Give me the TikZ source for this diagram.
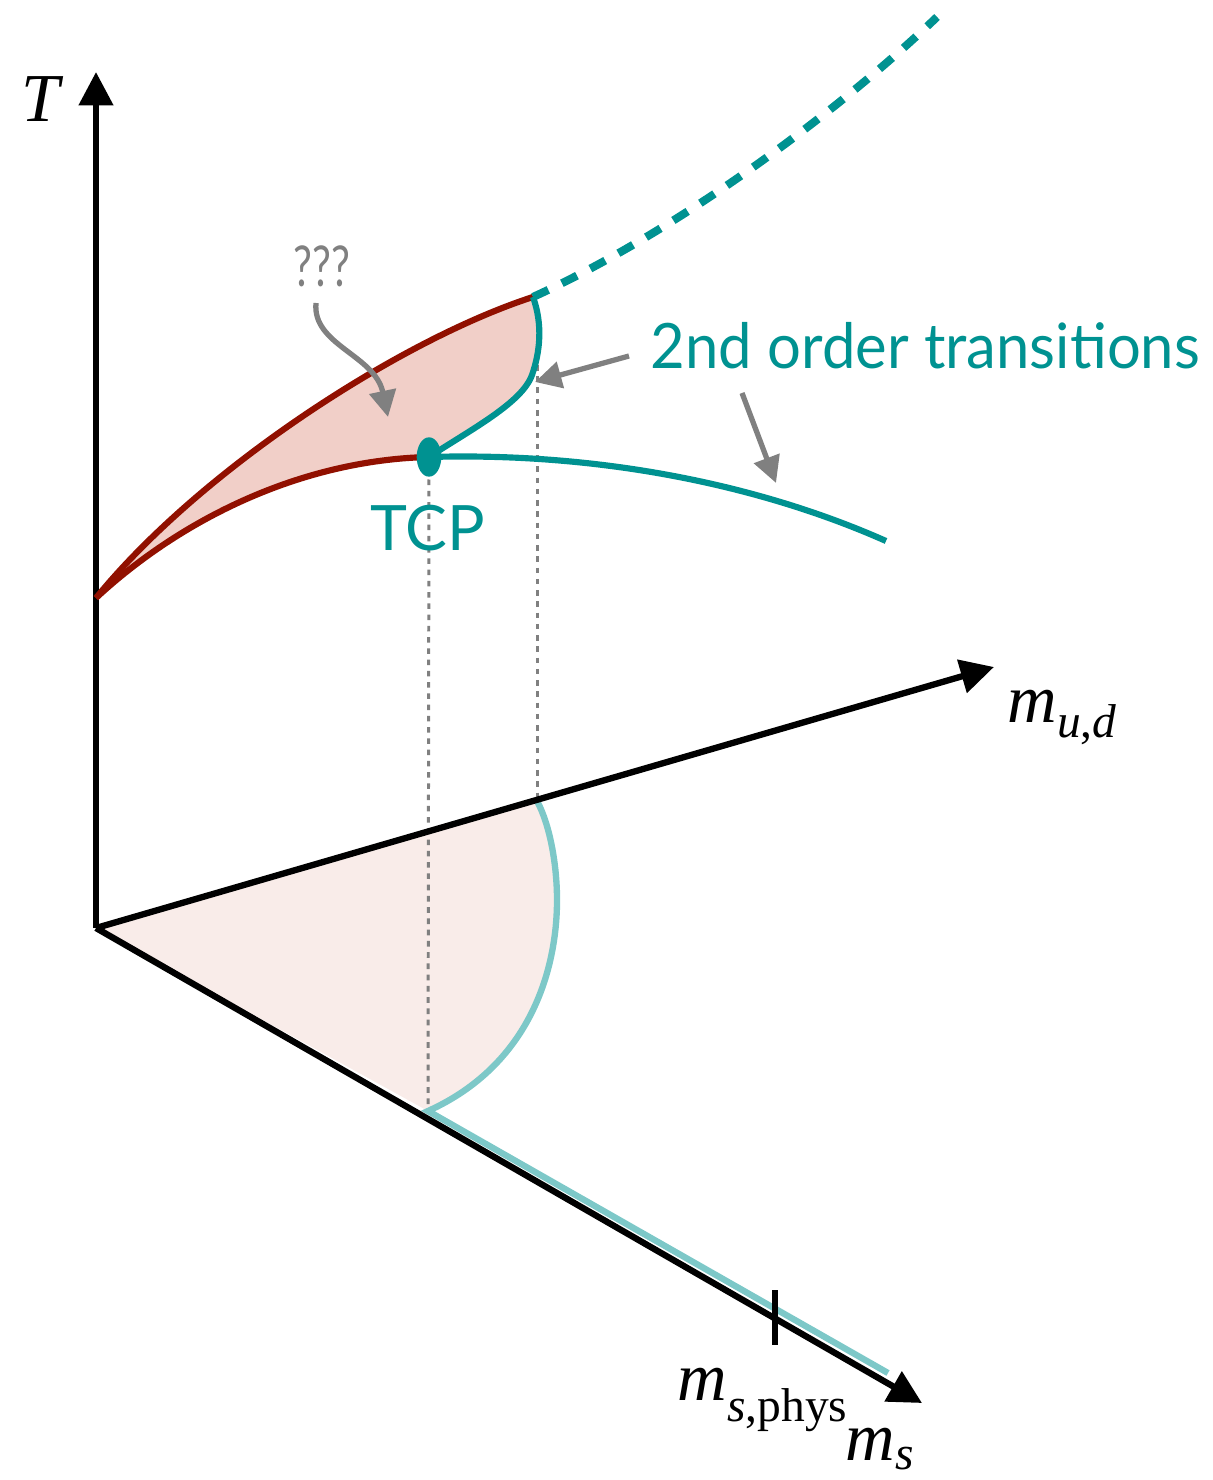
\documentclass[tikz,border=0pt]{standalone}
\usepackage{fontspec}
\setmainfont{Liberation Serif}
\newfontfamily\labfont{Lato}
\usetikzlibrary{arrows.meta}
\definecolor{tealD}{RGB}{0,146,145}
\definecolor{tealL}{RGB}{125,200,200}
\definecolor{redD}{RGB}{145,16,0}
\definecolor{pinkF}{RGB}{241,207,200}
\definecolor{paleF}{RGB}{249,236,233}
\definecolor{grayA}{RGB}{128,128,128}
\begin{document}
\begin{tikzpicture}[x=0.01cm,y=-0.01cm,
  axis/.style={line width=1.8pt,-{Triangle[length=9.5pt,width=9.5pt]}},
  redc/.style={draw=redD,line width=1.75pt},
  tealc/.style={draw=tealD,line width=1.75pt},
  teallight/.style={draw=tealL,line width=1.8pt,line join=miter},
  pointer/.style={draw=grayA,line width=1.5pt,-{Triangle[length=7.5pt,width=7.5pt]}},
  guide/.style={draw=grayA,line width=0.85pt,dash pattern=on 1.6pt off 1.6pt},
  lab/.style={inner sep=0pt,anchor=base west},
  sanslab/.style={lab,text=tealD,font=\labfont\fontsize{17.8}{20}\selectfont}]
\useasboundingbox (0,0) rectangle (1212,1480);
% coordinates
\coordinate (O) at (96,928);
\coordinate (Ttip) at (96,72);
\coordinate (Utip) at (994,667);
\coordinate (Stip) at (922,1403);
\coordinate (A) at (96,598);
\coordinate (B) at (533,297);
\coordinate (TCP) at (429,457);
\coordinate (M) at (532,375);
\coordinate (E) at (886,541);
\coordinate (D) at (937,17);
\coordinate (P) at (537,801);
\coordinate (Q) at (557,900);
\coordinate (R) at (428,1111);
\coordinate (Rend) at (888,1373);
\coordinate (G) at (537,365);
\coordinate (tk1) at (775,1290);
\coordinate (tk2) at (775,1345);
% fills
\fill[paleF] (O) -- (P) .. controls (550,825) and (557,865) .. (Q) .. controls (557,970) and (530,1065) .. (R) -- cycle;
\fill[pinkF] (A) .. controls (200,470) and (400,340) .. (B) .. controls (543,325) and (540,352) .. (M) .. controls (522,403) and (470,430) .. (TCP) .. controls (300,460) and (180,520) .. (A) -- cycle;
% guides
\draw[guide] (TCP) -- (R);
\draw[guide] (G) -- (P);
% light teal projection
\draw[teallight] (P) .. controls (550,825) and (557,865) .. (Q) .. controls (557,970) and (530,1065) .. (R) -- (Rend);
% axes
\draw[axis] (O) -- (Ttip);
\draw[axis] (O) -- (Utip);
\draw[axis] (O) -- (Stip);
\draw[line width=1.8pt] (tk1) -- (tk2);
% curves
\draw[redc] (A) .. controls (200,470) and (400,340) .. (B);
\draw[redc] (A) .. controls (180,520) and (300,460) .. (TCP);
\draw[tealc] (B) .. controls (543,325) and (540,352) .. (M) .. controls (522,403) and (470,430) .. (TCP);
\draw[tealc] (TCP) .. controls (600,452) and (760,485) .. (E);
\draw[tealc,line width=2.3pt,dash pattern=on 4.8pt off 4.3pt] (B) .. controls (680,230) and (840,110) .. (D);
\fill[tealD] (TCP) ellipse [x radius=3.5pt, y radius=5.6pt];
% labels
\node[lab,font=\fontsize{19.5}{22}\selectfont\itshape] (Tl) at (21,122) {T};
\node[lab,font=\fontsize{19.5}{22}\selectfont] (Ul) at (1007,722) {\textit{m}\raisebox{-4.5pt}{\fontsize{13.5}{15}\selectfont\textit{u},\textit{d}}};
\node[lab,font=\fontsize{19.5}{22}\selectfont] (Sp) at (677,1400) {\textit{m}\raisebox{-6pt}{\fontsize{13.5}{15}\selectfont\textit{s},phys}};
\node[lab,font=\fontsize{19.5}{22}\selectfont] (Sl) at (845,1460) {\textit{m}\raisebox{-2.8pt}{\fontsize{13.5}{15}\selectfont\textit{s}}};
\node[sanslab] (tcpl) at (370,551) {TCP};
\node[sanslab] (sol) at (650,369) {\scalebox{0.955}[1]{2nd order transitions}};
\node[lab,text=grayA,font=\labfont\fontsize{16}{18}\selectfont] (qq) at (293,287) {\scalebox{0.75}[1]{???}};
% pointers
\coordinate (q1) at (316,303);
\coordinate (q2) at (388,417);
\coordinate (a1) at (629,356);
\coordinate (a2) at (535,382);
\coordinate (b1) at (742,393);
\coordinate (b2) at (776,483);
\draw[pointer] (q1) .. controls (312,345) and (375,355) .. (q2);
\draw[pointer] (a1) -- (a2);
\draw[pointer] (b1) -- (b2);
\end{tikzpicture}
\end{document}
